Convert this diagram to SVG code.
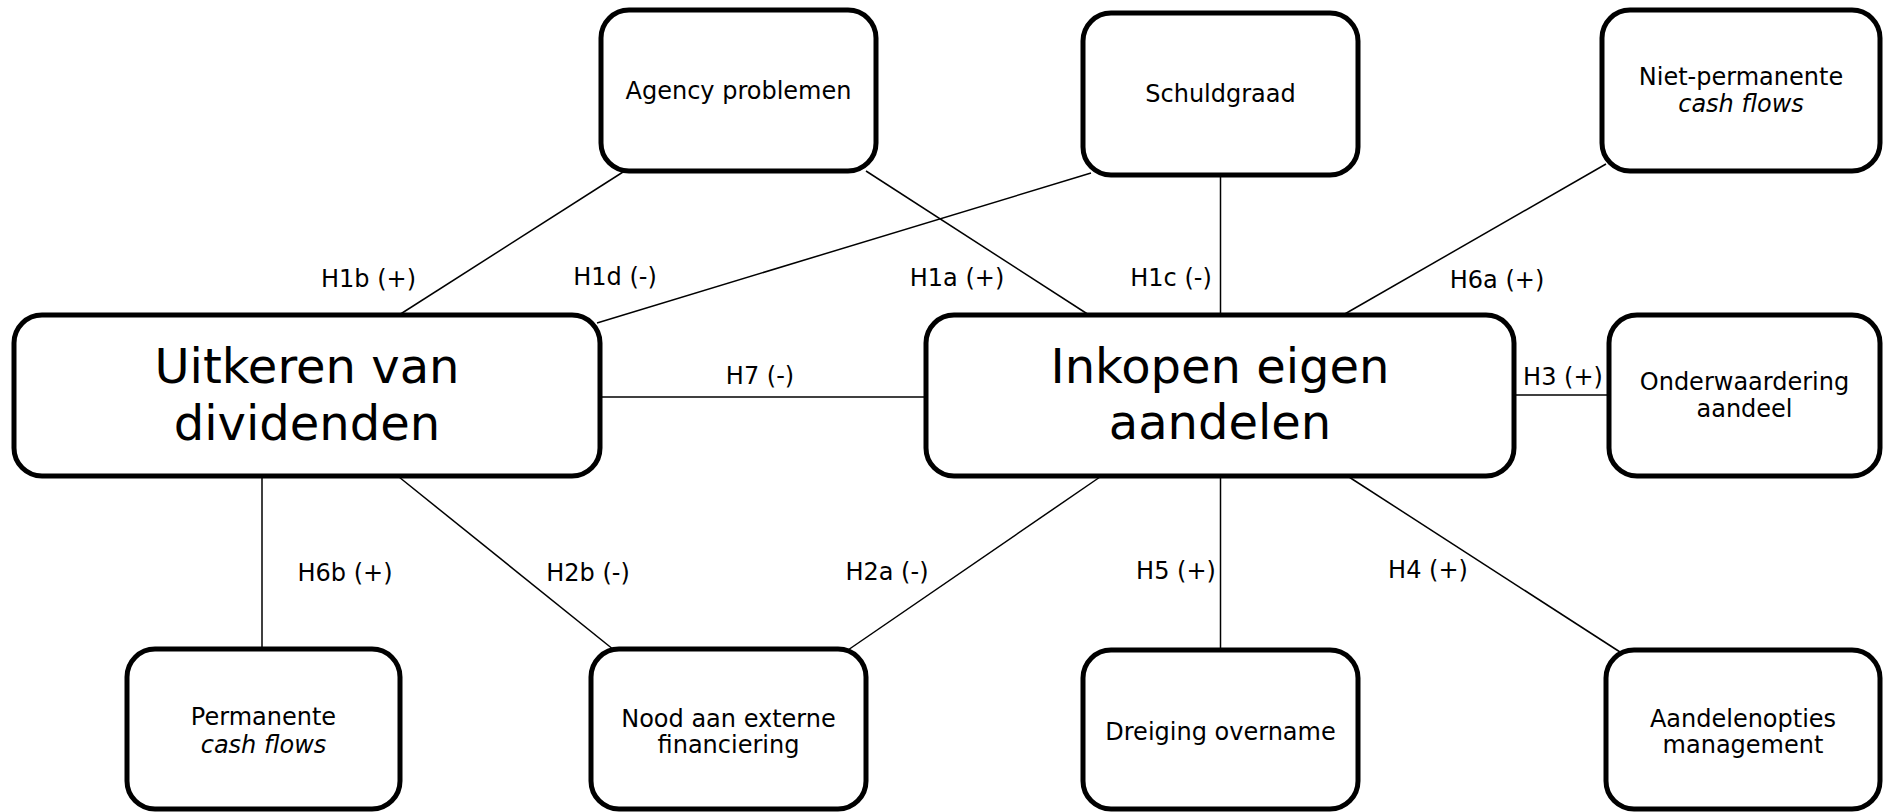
<svg xmlns="http://www.w3.org/2000/svg" width="1883" height="812" viewBox="0 0 1883 812">
<style>
.box{fill:#fff;stroke:#000;stroke-width:5}
.t{font-family:"DejaVu Sans","Verdana",sans-serif;font-size:24px;fill:#000;text-anchor:middle}
.big{font-size:48px}
.it{font-style:italic}
.c{stroke:#000;stroke-width:1.5;fill:none}
</style>
<rect width="1883" height="812" fill="#fff"/>
<g id="connectors">
<line class="c" x1="623" y1="172" x2="399" y2="315"/>
<line class="c" x1="866" y1="171" x2="1089" y2="315"/>
<line class="c" x1="1091" y1="173" x2="597" y2="323"/>
<line class="c" x1="1220.5" y1="175" x2="1220.5" y2="315"/>
<line class="c" x1="1606" y1="164" x2="1343" y2="315"/>
<line class="c" x1="600" y1="397" x2="926" y2="397"/>
<line class="c" x1="1514" y1="395" x2="1609" y2="395"/>
<line class="c" x1="262" y1="476" x2="262" y2="649"/>
<line class="c" x1="399" y1="477" x2="614" y2="650"/>
<line class="c" x1="1100" y1="477" x2="848" y2="650"/>
<line class="c" x1="1220.5" y1="476" x2="1220.5" y2="650"/>
<line class="c" x1="1349" y1="477" x2="1620" y2="652"/>
<text class="t" x="368.5" y="287">H1b (+)</text>
<text class="t" x="615" y="285">H1d (-)</text>
<text class="t" x="760" y="384">H7 (-)</text>
<text class="t" x="957" y="286">H1a (+)</text>
<text class="t" x="1171" y="286">H1c (-)</text>
<text class="t" x="1497" y="288">H6a (+)</text>
<text class="t" x="1563" y="385">H3 (+)</text>
<text class="t" x="345" y="581">H6b (+)</text>
<text class="t" x="588" y="581">H2b (-)</text>
<text class="t" x="887" y="580">H2a (-)</text>
<text class="t" x="1176" y="579">H5 (+)</text>
<text class="t" x="1428" y="578">H4 (+)</text>
</g>
<g id="agency">
<rect class="box" x="601" y="10" width="275" height="161" rx="28"/>
<text class="t" x="738.5" y="99">Agency problemen</text>
</g>
<g id="schuldgraad">
<rect class="box" x="1083" y="13" width="275" height="162" rx="28"/>
<text class="t" x="1220.5" y="102">Schuldgraad</text>
</g>
<g id="niet-permanente">
<rect class="box" x="1602" y="10" width="278" height="161" rx="28"/>
<text class="t" x="1741" y="85">Niet-permanente</text>
<text class="t it" x="1741" y="111.5">cash flows</text>
</g>
<g id="uitkeren">
<rect class="box" x="14" y="315" width="586" height="161" rx="28"/>
<text class="t big" x="307" y="383">Uitkeren van</text>
<text class="t big" x="307" y="440">dividenden</text>
</g>
<g id="inkopen">
<rect class="box" x="926" y="315" width="588" height="161" rx="28"/>
<text class="t big" x="1220" y="383">Inkopen eigen</text>
<text class="t big" x="1220" y="439">aandelen</text>
</g>
<g id="onderwaardering">
<rect class="box" x="1609" y="315" width="271" height="161" rx="28"/>
<text class="t" x="1744.5" y="390">Onderwaardering</text>
<text class="t" x="1744.5" y="417">aandeel</text>
</g>
<g id="permanente">
<rect class="box" x="127" y="649" width="273" height="160" rx="28"/>
<text class="t" x="263.5" y="725">Permanente</text>
<text class="t it" x="263.5" y="753">cash flows</text>
</g>
<g id="nood">
<rect class="box" x="591" y="649" width="275" height="160" rx="28"/>
<text class="t" x="728.5" y="726.5">Nood aan externe</text>
<text class="t" x="728.5" y="753">financiering</text>
</g>
<g id="dreiging">
<rect class="box" x="1083" y="650" width="275" height="159" rx="28"/>
<text class="t" x="1220.5" y="740">Dreiging overname</text>
</g>
<g id="aandelenopties">
<rect class="box" x="1606" y="650" width="274" height="159" rx="28"/>
<text class="t" x="1743" y="726.5">Aandelenopties</text>
<text class="t" x="1743" y="752.5">management</text>
</g>
</svg>
